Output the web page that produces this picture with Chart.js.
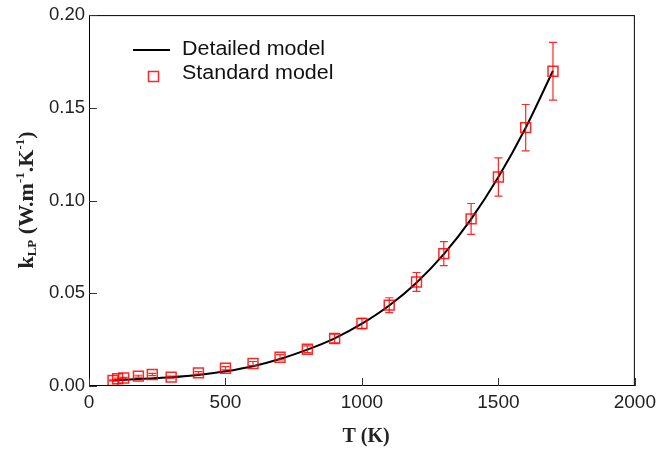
<!DOCTYPE html>
<html>
<head>
<meta charset="utf-8">
<script src="https://cdn.jsdelivr.net/npm/chart.js@4.4.1/dist/chart.umd.min.js"></script>
<style>
  html, body { margin: 0; padding: 0; background: #fff; }
  #wrap { width: 661px; height: 455px; }
</style>
</head>
<body>
<div id="wrap"><canvas id="kChart" width="661" height="455"></canvas></div>
<script>
// Detailed model curve
const curveT = [88, 100, 150, 200, 250, 300, 400, 500, 600, 700, 800, 900, 1000, 1100, 1200, 1300, 1400, 1500, 1600, 1700];
const curveK = [0.0029, 0.0031, 0.0035, 0.0039, 0.0043, 0.0047, 0.0059, 0.0079, 0.0107, 0.0146, 0.0196, 0.0257, 0.0336, 0.0434, 0.0557, 0.0711, 0.0900, 0.1127, 0.1393, 0.1700];

// Standard model points and their error bars
const stdT = [88, 105, 127, 181, 232, 301, 401, 500, 601, 700, 800, 900, 1000, 1100, 1200, 1300, 1400, 1500, 1600, 1700];
const stdK = [0.0030, 0.0039, 0.0043, 0.0053, 0.0062, 0.0048, 0.0071, 0.0096, 0.0121, 0.0155, 0.0198, 0.0256, 0.0337, 0.0436, 0.0561, 0.0714, 0.0901, 0.1127, 0.1393, 0.1697];
const stdErr = [0.0003, 0.0004, 0.0004, 0.0005, 0.0006, 0.0005, 0.0007, 0.0009, 0.0011, 0.0014, 0.0018, 0.0023, 0.0028, 0.0040, 0.0051, 0.0065, 0.0083, 0.0103, 0.0125, 0.0156];

// Axis ticks
const xTicks = [0, 500, 1000, 1500, 2000];
const yTicks = [0.00, 0.05, 0.10, 0.15, 0.20];

const legendLabels = ['Detailed model', 'Standard model'];

const RED = 'rgba(255, 0, 0, 0.85)';
const SANS = '"Liberation Sans", Arial, sans-serif';
const SERIF = '"Liberation Serif", "Times New Roman", serif';

// Frame, inward ticks, error bars, legend and axis titles
const decorPlugin = {
    id: 'decor',
    afterDatasetsDraw(chart) {
        const ctx = chart.ctx;
        const xs = chart.scales.x;
        const ys = chart.scales.y;

        // error bars
        ctx.save();
        ctx.strokeStyle = RED;
        ctx.lineWidth = 1.2;
        stdT.forEach((t, i) => {
            const px = xs.getPixelForValue(t);
            const top = ys.getPixelForValue(stdK[i] + stdErr[i]);
            const bot = ys.getPixelForValue(stdK[i] - stdErr[i]);
            ctx.beginPath();
            ctx.moveTo(px, top); ctx.lineTo(px, bot);
            ctx.moveTo(px - 4, top); ctx.lineTo(px + 4, top);
            ctx.moveTo(px - 4, bot); ctx.lineTo(px + 4, bot);
            ctx.stroke();
        });
        ctx.restore();
    },
    afterDraw(chart) {
        const ctx = chart.ctx;
        const xs = chart.scales.x;
        const ys = chart.scales.y;
        const area = chart.chartArea;

        ctx.save();
        // frame
        ctx.strokeStyle = '#000';
        ctx.lineWidth = 1;
        ctx.strokeRect(area.left + 0.5, area.top + 0.5, area.right - area.left - 1, area.bottom - area.top - 1);

        // inward ticks
        ctx.strokeStyle = '#333';
        ctx.beginPath();
        xTicks.forEach(v => {
            const px = Math.round(xs.getPixelForValue(v)) + 0.5;
            ctx.moveTo(px, area.bottom); ctx.lineTo(px, area.bottom - 8);
        });
        yTicks.forEach(v => {
            const py = Math.round(ys.getPixelForValue(v)) + 0.5;
            ctx.moveTo(area.left, py); ctx.lineTo(area.left + 8, py);
        });
        ctx.stroke();

        // legend
        ctx.strokeStyle = '#000';
        ctx.lineWidth = 2;
        ctx.beginPath();
        ctx.moveTo(133, 50); ctx.lineTo(170, 50);
        ctx.stroke();
        ctx.strokeStyle = RED;
        ctx.lineWidth = 1.5;
        ctx.strokeRect(148.5, 71.5, 10, 10);
        ctx.fillStyle = '#111';
        ctx.font = '19.5px ' + SANS;
        ctx.textBaseline = 'middle';
        ctx.textAlign = 'left';
        ctx.save();
        ctx.translate(182, 0);
        ctx.scale(1.1, 1);
        ctx.fillText(legendLabels[0], 0, 50);
        ctx.fillText(legendLabels[1], 0, 74);
        ctx.restore();

        // x title
        ctx.fillStyle = '#222';
        ctx.font = 'bold 20px ' + SERIF;
        ctx.textAlign = 'center';
        ctx.textBaseline = 'alphabetic';
        ctx.fillText('T (K)', 366, 442);

        // y title with subscript and superscripts
        const big = 'bold 22px ' + SERIF;
        const small = 'bold 13px ' + SERIF;
        const parts = [
            { t: 'k', f: big, dy: 0 },
            { t: 'LP', f: small, dy: 3 },
            { t: ' (W.m', f: big, dy: 0 },
            { t: '-1', f: small, dy: -9 },
            { t: '.K', f: big, dy: 0 },
            { t: '-1', f: small, dy: -9 },
            { t: ')', f: big, dy: 0 }
        ];
        let total = 0;
        parts.forEach(p => { ctx.font = p.f; p.w = ctx.measureText(p.t).width; total += p.w; });
        ctx.translate(33, 200);
        ctx.rotate(-Math.PI / 2);
        ctx.textAlign = 'left';
        let u = -total / 2;
        parts.forEach(p => {
            ctx.font = p.f;
            ctx.fillText(p.t, u, p.dy);
            u += p.w;
        });
        ctx.restore();
    }
};

const ctx = document.getElementById('kChart');

new Chart(ctx, {
    type: 'scatter',
    data: {
        datasets: [
            {
                label: legendLabels[0],
                data: curveT.map((t, i) => ({ x: t, y: curveK[i] })),
                showLine: true,
                borderColor: '#000',
                borderWidth: 2,
                pointRadius: 0,
                cubicInterpolationMode: 'monotone',
                order: 2
            },
            {
                label: legendLabels[1],
                data: stdT.map((t, i) => ({ x: t, y: stdK[i] })),
                pointStyle: 'rect',
                pointRadius: 7,
                pointBorderWidth: 1.5,
                pointBorderColor: RED,
                pointBackgroundColor: 'rgba(0,0,0,0)',
                order: 1
            }
        ]
    },
    options: {
        responsive: false,
        animation: false,
        layout: { padding: { left: 0, right: 24, top: 12, bottom: 0 } },
        plugins: {
            legend: { display: false },
            tooltip: { enabled: false }
        },
        scales: {
            x: {
                type: 'linear',
                min: 0,
                max: 2000,
                afterFit: s => { s.height = 69; },
                afterBuildTicks: s => { s.ticks = xTicks.map(v => ({ value: v })); },
                grid: { display: false, drawTicks: false },
                border: { display: false },
                ticks: {
                    padding: 5,
                    color: '#222',
                    font: { family: SANS, size: 19 },
                    callback: v => String(v)
                }
            },
            y: {
                type: 'linear',
                min: 0,
                max: 0.2,
                afterFit: s => { s.width = 89; },
                afterBuildTicks: s => { s.ticks = yTicks.map(v => ({ value: v })); },
                grid: { display: false, drawTicks: false },
                border: { display: false },
                ticks: {
                    padding: 4,
                    color: '#222',
                    font: { family: SANS, size: 18.5 },
                    callback: v => Number(v).toFixed(2)
                }
            }
        }
    },
    plugins: [decorPlugin]
});
</script>
</body>
</html>
